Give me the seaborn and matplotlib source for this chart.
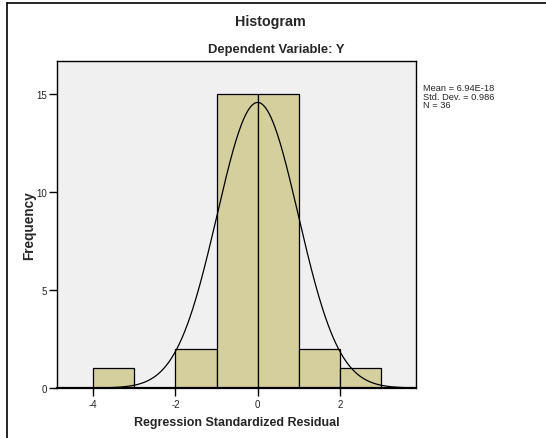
import numpy as np
import pandas as pd
import matplotlib
matplotlib.use("Agg")
import matplotlib.pyplot as plt
import seaborn as sns
from matplotlib.lines import Line2D

# Residual histogram: bin edges and frequencies
bin_edges = [-4, -3, -2, -1, 0, 1, 2, 3]
counts = [1, 0, 2, 15, 15, 2, 1]
resid_mean = 6.94e-18
resid_sd = 0.986
n_obs = 36

sns.set_theme(style="white")
plt.rcParams["font.family"] = ["Liberation Sans", "DejaVu Sans"]
plt.rcParams["axes.unicode_minus"] = False

fig = plt.figure(figsize=(5.46, 4.39), dpi=100)
ax = fig.add_axes([57 / 546, 1 - 389 / 439, (416 - 57) / 546, (389 - 62) / 439])

centers = [(a + b) / 2 for a, b in zip(bin_edges[:-1], bin_edges[1:])]
df = pd.DataFrame({"resid": centers, "freq": counts})
sns.histplot(data=df, x="resid", weights="freq", bins=bin_edges, ax=ax,
             color="#d4cf9c", alpha=1, edgecolor="black", linewidth=0.9)

# Fitted normal curve scaled to counts
xs = np.linspace(-4.88, 3.85, 400)
width = bin_edges[1] - bin_edges[0]
ys = n_obs * width / (resid_sd * np.sqrt(2 * np.pi)) * np.exp(-0.5 * ((xs - resid_mean) / resid_sd) ** 2)
sns.lineplot(x=xs, y=ys, ax=ax, color="black", linewidth=0.9)

ax.set_facecolor("#f0f0f0")
ax.set_xlim(-4.88, 3.85)
ax.set_ylim(0, 16.68)
ax.set_xticks([-4, -2, 0, 2])
ax.set_yticks([0, 5, 10, 15])
ax.tick_params(axis="both", direction="out", length=6, width=1, color="black",
               labelsize=7, labelcolor="#222222", bottom=True, left=True)
ax.tick_params(axis="x", pad=2)
ax.tick_params(axis="y", pad=1)
for s in ax.spines.values():
    s.set_color("black")
    s.set_linewidth(1)
ax.spines["bottom"].set_linewidth(1.6)
ax.set_xlabel("Regression Standardized Residual", fontsize=9, fontweight="bold", labelpad=5)
ax.set_ylabel("Frequency", fontsize=9.8, fontweight="bold", labelpad=0)

fig.text(270 / 546, 1 - 22 / 439, "Histogram", ha="center", va="center",
         fontsize=10.3, fontweight="bold")
fig.text(276 / 546, 1 - 50 / 439, "Dependent Variable: Y", ha="center", va="center",
         fontsize=9.4, fontweight="bold")
fig.text(423 / 546, 1 - 84 / 439,
         f"Mean = {resid_mean:.2E}\nStd. Dev. = {resid_sd}\nN = {n_obs}",
         ha="left", va="top", fontsize=6.7, linespacing=0.95)

# Outer frame (top and left edges)
fig.lines.append(Line2D([7 / 546, 1], [1 - 4 / 439, 1 - 4 / 439],
                        transform=fig.transFigure, color="black", linewidth=1.2))
fig.lines.append(Line2D([7 / 546, 7 / 546], [0, 1 - 4 / 439],
                        transform=fig.transFigure, color="black", linewidth=1.2))

fig.savefig("out.png", dpi=100)
